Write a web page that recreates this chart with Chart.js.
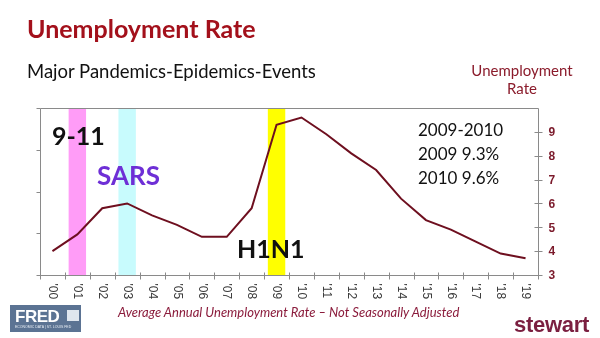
<!DOCTYPE html>
<html>
<head>
<meta charset="utf-8">
<script src="https://cdn.jsdelivr.net/npm/chart.js@4.4.0/dist/chart.umd.min.js"></script>
<style>
  html, body { margin: 0; padding: 0; background: #fff; }
  body { width: 600px; height: 338px; position: relative; overflow: hidden; font-family: Lato, "Open Sans", sans-serif; }
  #chartBox { position: absolute; left: 0; top: 0; width: 600px; height: 338px; }
  .t { position: absolute; line-height: 1; white-space: nowrap; }
  #title { left: 27px; top: 16px; font-size: 25px; font-weight: bold; color: #a3101b; }
  #subtitle { left: 27px; top: 62px; font-size: 18.5px; color: #111; }
  #axisName { left: 466px; top: 61px; width: 112px; text-align: center; font-size: 15px; line-height: 18px; color: #8b1c2c; }
  .ev { font-size: 25px; font-weight: bold; color: #111; }
  #ev911 { left: 52px; top: 123px; }
  #evSars { left: 97px; top: 162px; font-size: 26px; color: #6e2fd6; }
  #evH1n1 { left: 237px; top: 236px; }
  #note { left: 418px; top: 118px; font-size: 17px; line-height: 24px; color: #111; }
  #source { left: 118px; top: 306px; font-size: 13px; font-style: italic; color: #8b1c3c; }
  #stewart { left: 514px; top: 314px; font-family: "Liberation Sans", Arial, sans-serif; font-size: 22px; font-weight: bold; color: #7b1f40; letter-spacing: -0.3px; }
  #fred { position: absolute; left: 10px; top: 305px; width: 71px; height: 27px; background: #5b7393; }
  #fred .name { position: absolute; left: 5px; top: 3px; font-family: "Liberation Sans", Arial, sans-serif; font-size: 17px; font-weight: bold; color: #fff; line-height: 1; letter-spacing: -0.5px; }
  #fred .icon { position: absolute; left: 57px; top: 5px; width: 12px; height: 11px; background: #dfe6ee; }
  #fred .tag { position: absolute; left: 5px; top: 21px; font-family: "Liberation Sans", Arial, sans-serif; font-size: 3.5px; color: #e8eef5; line-height: 1; }
</style>
</head>
<body>
<div id="chartBox"><canvas id="rateChart"></canvas></div>

<div class="t" id="title">Unemployment Rate</div>
<div class="t" id="subtitle">Major Pandemics-Epidemics-Events</div>
<div class="t" id="axisName">Unemployment<br>Rate</div>
<div class="t ev" id="ev911">9-11</div>
<div class="t ev" id="evSars">SARS</div>
<div class="t ev" id="evH1n1">H1N1</div>
<div class="t" id="note">2009-2010<br>2009 9.3%<br>2010 9.6%</div>
<div class="t" id="source">Average Annual Unemployment Rate – Not Seasonally Adjusted</div>
<div class="t" id="stewart">stewart</div>
<div id="fred"><span class="name">FRED</span><span class="icon"></span><span class="tag">ECONOMIC DATA | ST. LOUIS FED</span></div>

<script>
const years = ["'00", "'01", "'02", "'03", "'04", "'05", "'06", "'07", "'08", "'09",
               "'10", "'11", "'12", "'13", "'14", "'15", "'16", "'17", "'18", "'19"];
const rates = [4.0, 4.7, 5.8, 6.0, 5.5, 5.1, 4.6, 4.6, 5.8, 9.3,
               9.6, 8.9, 8.1, 7.4, 6.2, 5.3, 4.9, 4.4, 3.9, 3.7];
const eventYears = ["'01", "'03", "'09"];   // 9-11, SARS, H1N1
const rateTicks = [3, 4, 5, 6, 7, 8, 9];
const rateMin = 3;
const rateMax = 10;

const bandColors = { "'01": '#ff9cf7', "'03": '#c8fbfd', "'09": '#ffff00' };

// floating bars from bottom to top of the scale for each event year
const bands = years.map(y => eventYears.includes(y) ? [rateMin, rateMax] : null);

const frame = {
    id: 'frame',
    afterDatasetsDraw(chart) {
        const { ctx, chartArea: a, scales } = chart;
        const x = scales.x, y = scales.y, yl = scales.yLeft;
        const L = Math.round(a.left) + 0.5, R = Math.round(a.right) + 0.5;
        const T = Math.round(a.top) + 0.5, B = Math.round(a.bottom) + 0.5;
        ctx.save();
        ctx.strokeStyle = '#8a8a8a';
        ctx.lineWidth = 1;
        ctx.beginPath();
        ctx.rect(L, T, R - L, B - T);
        // x ticks at category edges
        for (let i = 0; i <= years.length; i++) {
            const px = Math.round(x.getPixelForValue(i - 0.5)) + 0.5;
            ctx.moveTo(px, B - 3);
            ctx.lineTo(px, B + 4);
        }
        // left axis ticks
        for (let v = 0; v <= 4; v++) {
            const py = Math.round(yl.getPixelForValue(v)) + 0.5;
            ctx.moveTo(L - 4, py);
            ctx.lineTo(L, py);
        }
        // right axis ticks
        rateTicks.forEach(v => {
            const py = Math.round(y.getPixelForValue(v)) + 0.5;
            ctx.moveTo(R - 4, py);
            ctx.lineTo(R + 4, py);
        });
        ctx.stroke();

        ctx.fillStyle = '#7b1a2b';
        ctx.font = 'bold 12px "Liberation Sans", Arial, sans-serif';
        ctx.textAlign = 'left';
        ctx.textBaseline = 'middle';
        rateTicks.forEach(v => {
            ctx.fillText(String(v), R + 10, y.getPixelForValue(v) + 1);
        });

        ctx.fillStyle = '#3a3a3a';
        ctx.font = '12px "Liberation Sans", Arial, sans-serif';
        years.forEach((lab, i) => {
            ctx.save();
            ctx.translate(x.getPixelForValue(i), B + 8);
            ctx.rotate(Math.PI / 2);
            ctx.fillText(lab, 0, 0);
            ctx.restore();
        });
        ctx.restore();
    }
};

document.addEventListener('DOMContentLoaded', function () {
    const ctx = document.getElementById('rateChart').getContext('2d');
    new Chart(ctx, {
        data: {
            labels: years,
            datasets: [{
                type: 'line',
                label: 'Unemployment Rate',
                data: rates,
                borderColor: '#6e0f1f',
                borderWidth: 2,
                pointRadius: 0,
                tension: 0,
                order: 0
            }, {
                type: 'bar',
                label: 'Events',
                data: bands,
                backgroundColor: years.map(y => bandColors[y] || 'transparent'),
                barPercentage: 0.7,
                categoryPercentage: 1,
                order: 1
            }]
        },
        options: {
            responsive: true,
            maintainAspectRatio: false,
            animation: false,
            events: [],
            layout: {
                padding: { left: 40, right: 62, top: 108, bottom: 63 }
            },
            scales: {
                x: { type: 'category', offset: true, display: false },
                y: { type: 'linear', position: 'right', min: rateMin, max: rateMax, display: false },
                yLeft: { type: 'linear', position: 'left', min: 0, max: 4, display: false }
            },
            plugins: {
                legend: { display: false },
                tooltip: { enabled: false }
            }
        },
        plugins: [frame]
    });
});
</script>
</body>
</html>
